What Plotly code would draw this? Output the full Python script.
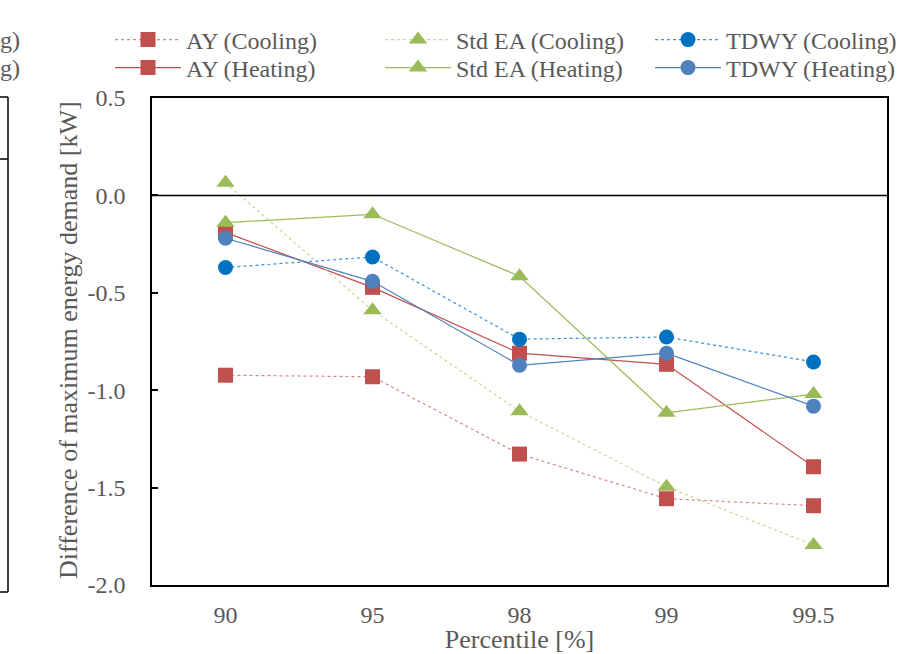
import plotly.graph_objects as go

percentiles = ["90", "95", "98", "99", "99.5"]
ay_cooling = [-0.923, -0.931, -1.328, -1.557, -1.593]
ay_heating = [-0.19, -0.472, -0.81, -0.867, -1.393]
std_cooling = [0.065, -0.59, -1.108, -1.496, -1.795]
std_heating = [-0.14, -0.097, -0.415, -1.116, -1.02]
tdwy_cooling = [-0.37, -0.316, -0.738, -0.727, -0.855]
tdwy_heating = [-0.22, -0.441, -0.872, -0.81, -1.082]
y_ticks = [0.5, 0.0, -0.5, -1.0, -1.5, -2.0]

FONT = "Liberation Serif"
GRAY = "#595959"

W, H = 917, 654
L, R, T, B = 152, 30, 98, 69
pw, ph = W - L - R, H - T - B

# name, values, line color, marker color, dash, symbol, legend column px, legend row px
series = [
    ("AY (Cooling)", ay_cooling, "#D98784", "#C0504D", "dot", "square", 110, 40),
    ("AY (Heating)", ay_heating, "#C0504D", "#C0504D", "solid", "square", 110, 68),
    ("Std EA (Cooling)", std_cooling, "#C4D79B", "#9BBB59", "dot", "triangle-up", 380, 40),
    ("Std EA (Heating)", std_heating, "#9BBB59", "#9BBB59", "solid", "triangle-up", 380, 68),
    ("TDWY (Cooling)", tdwy_cooling, "#3D8FD6", "#0070C0", "dot", "circle", 650, 40),
    ("TDWY (Heating)", tdwy_heating, "#4F81BD", "#4F81BD", "solid", "circle", 650, 68),
]

fig = go.Figure()
legend_layouts = {}
for i, (name, vals, lc, mc, dash, sym, lx, ly) in enumerate(series):
    key = "legend" if i == 0 else f"legend{i + 1}"
    fig.add_trace(go.Scatter(
        x=percentiles, y=vals, name=name, mode="lines+markers",
        line=dict(color=lc, width=1.2, dash=dash),
        marker=dict(symbol=sym, size=15 if sym != "triangle-up" else 16, color=mc,
                    line=dict(width=0)),
        legend=key,
    ))
    legend_layouts[key] = dict(
        xref="container", yref="container", x=lx / W, xanchor="left",
        y=1 - ly / H, yanchor="middle", orientation="v", itemwidth=66,
        font=dict(family=FONT, size=24, color=GRAY),
        bgcolor="rgba(0,0,0,0)", borderwidth=0,
    )

def px2x(px):
    return (px - L) / pw

def py2y(py):
    return (H - B - py) / ph

shapes = [
    dict(type="line", xref="paper", yref="y", x0=0, x1=1, y0=0, y1=0,
         line=dict(color="black", width=1.5)),
    # fragment of the neighbouring chart on the left edge
    dict(type="line", xref="paper", yref="paper", x0=px2x(8), x1=px2x(8),
         y0=py2y(592), y1=py2y(97), line=dict(color="black", width=1.5)),
    dict(type="line", xref="paper", yref="paper", x0=px2x(-2), x1=px2x(8),
         y0=py2y(97), y1=py2y(97), line=dict(color="black", width=1.5)),
    dict(type="line", xref="paper", yref="paper", x0=px2x(-2), x1=px2x(8),
         y0=py2y(159), y1=py2y(159), line=dict(color="black", width=1.5)),
    dict(type="line", xref="paper", yref="paper", x0=px2x(-2), x1=px2x(8),
         y0=py2y(592), y1=py2y(592), line=dict(color="black", width=1.5)),
]

annotations = [
    dict(text="g)", xref="paper", yref="paper", x=px2x(22), y=py2y(40),
         xanchor="right", yanchor="middle", showarrow=False,
         font=dict(family=FONT, size=24, color=GRAY)),
    dict(text="g)", xref="paper", yref="paper", x=px2x(22), y=py2y(68),
         xanchor="right", yanchor="middle", showarrow=False,
         font=dict(family=FONT, size=24, color=GRAY)),
    # y-axis title
    dict(text="Difference of maximum energy demand [kW]", xref="paper", yref="paper",
         x=px2x(68), y=py2y(340), xanchor="center", yanchor="middle",
         textangle=-90, showarrow=False,
         font=dict(family=FONT, size=26, color=GRAY)),
]

fig.update_layout(
    width=W, height=H,
    margin=dict(l=L, r=R, t=T, b=B, pad=0, autoexpand=False),
    paper_bgcolor="white", plot_bgcolor="white",
    font=dict(family=FONT, size=24, color=GRAY),
    showlegend=True,
    shapes=shapes,
    annotations=annotations,
    xaxis=dict(type="category", range=[-0.5, 4.5], showgrid=False,
               showline=True, linecolor="black", linewidth=1.5, mirror=True,
               ticks="", ticklabelstandoff=7,
               tickfont=dict(family=FONT, size=24, color=GRAY),
               title=dict(text="Percentile [%]", standoff=2,
                          font=dict(family=FONT, size=26, color=GRAY)),
               zeroline=False),
    yaxis=dict(range=[-2.0, 0.5], tickvals=y_ticks,
               ticktext=[f"{v:.1f}" for v in y_ticks],
               showgrid=False, zeroline=False,
               showline=True, linecolor="black", linewidth=1.5, mirror=True,
               ticks="inside", ticklen=6, tickcolor="black", tickwidth=1.5,
               ticklabelstandoff=20,
               tickfont=dict(family=FONT, size=24, color=GRAY)),
    **legend_layouts,
)

fig.write_html("out.html")
